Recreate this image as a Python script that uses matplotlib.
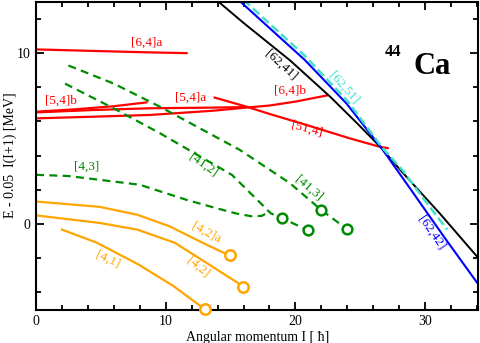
import matplotlib
matplotlib.use('Agg')
import matplotlib.pyplot as plt
from matplotlib.ticker import MultipleLocator

plt.rcParams['font.family'] = ['Liberation Serif', 'DejaVu Serif']

# ---- data ----
# red bands
i_64a = [0, 4, 8, 11.7]
e_64a = [10.2, 10.12, 10.04, 9.98]
i_54b = [0, 3, 6, 8.6]
e_54b = [6.56, 6.7, 6.88, 7.11]
i_54a = [0, 4.5, 8.8, 13.7, 16.2]
e_54a = [6.52, 6.66, 6.76, 6.8, 6.83]
i_64b = [0, 4.5, 8.8, 13.7, 16.2, 18.0, 20, 22.5]
e_64b = [6.17, 6.27, 6.37, 6.62, 6.8, 6.92, 7.15, 7.52]
i_514 = [13.7, 16.2, 18.0, 21, 24.2, 26.5, 27.2]
e_514 = [7.4, 6.86, 6.43, 5.75, 5.0, 4.51, 4.42]
# black / blue / cyan
i_6241 = [13.5, 16, 19.6, 22.7, 24.8, 26.65, 28.3, 31.1, 34.1]
e_6241 = [13.35, 11.75, 9.55, 7.42, 5.85, 4.42, 2.97, 0.64, -1.99]
i_6242 = [15.6, 18, 20.7, 23.95, 26.65, 29, 31.5, 34.1]
e_6242 = [13.1, 11.45, 9.6, 7.03, 4.42, 1.9, -0.8, -3.53]
i_6251 = [16.0, 18.3, 20.7, 24.0, 26.65, 28.3, 30.1, 31.7]
e_6251 = [13.1, 11.5, 9.85, 7.2, 4.5, 3.1, 1.25, -0.33]
# green bands
i_43 = [0, 2.5, 4.9, 8.0, 11.6, 14, 15.5, 16.6, 17.4, 17.95]
e_43 = [2.87, 2.8, 2.58, 2.29, 1.41, 0.9, 0.6, 0.45, 0.47, 0.7]
i_412 = [2.24, 6, 9.56, 15.1, 17.0, 18.1, 18.94, 20.95]
e_412 = [8.2, 6.75, 5.3, 2.87, 1.45, 0.62, 0.35, -0.37]
i_413 = [2.5, 6, 9.56, 15.73, 19.58, 21.97, 23.95]
e_413 = [9.26, 8.2, 6.85, 4.32, 2.38, 0.83, -0.29]
# orange bands
i_42a = [0, 4.9, 7.8, 10.3, 12.6, 14.2, 14.96]
e_42a = [1.31, 1.0, 0.54, -0.14, -1.01, -1.59, -1.84]
i_42 = [0, 4.9, 7.8, 10.7, 13.2, 15.73, 15.98]
e_42 = [0.5, 0.06, -0.33, -1.1, -2.3, -3.53, -3.66]
i_41 = [2, 4.7, 7.9, 10.6, 13.0]
e_41 = [-0.33, -1.1, -2.37, -3.63, -4.98]

RED = '#ff0000'
GREEN = '#008c00'
ORANGE = '#ffa500'
BLUE = '#0000ff'
CYAN = '#40e0d0'

fig = plt.figure(figsize=(4.8, 3.43), dpi=100)
ax = fig.add_axes([36 / 480, 1 - 309.5 / 343, (478.3 - 36) / 480, (309.5 - 1.5) / 343])

lw = 1.6
for xs, ys in [(i_64a, e_64a), (i_54b, e_54b), (i_54a, e_54a), (i_64b, e_64b), (i_514, e_514)]:
    ax.plot(xs, ys, color=RED, lw=lw, solid_capstyle='butt')

ax.plot(i_6241, e_6241, color='black', lw=1.4)
ax.plot(i_6242, e_6242, color=BLUE, lw=1.5)
ax.plot(i_6251, e_6251, color=CYAN, lw=1.8, dashes=(3.5, 1.6))

dash = (3.6, 2.4)
ax.plot(i_43, e_43, color=GREEN, lw=lw, dashes=dash)
for xs, ys in [(i_412, e_412), (i_413, e_413)]:
    ax.plot(xs, ys, color=GREEN, lw=lw, dashes=dash)
    ax.plot(xs[-2:], ys[-2:], ls='none', marker='o', ms=7, mfc='white', mec=GREEN, mew=1.8,
            clip_on=False, zorder=5)

for xs, ys in [(i_42a, e_42a), (i_42, e_42), (i_41, e_41)]:
    ax.plot(xs, ys, color=ORANGE, lw=lw)
    ax.plot(xs[-1:], ys[-1:], ls='none', marker='o', ms=7.5, mfc='white', mec=ORANGE, mew=1.8,
            clip_on=False, zorder=5)

fs = 9.5
def lab(x, y, s, c, rot=0):
    ax.text(x, y, s, color=c, fontsize=fs, ha='center', va='center', rotation=rot,
            rotation_mode='anchor')

lab(8.5, 10.6, '[6,4]a', RED)
lab(1.93, 7.22, '[5,4]b', RED)
lab(11.9, 7.36, '[5,4]a', RED)
lab(19.6, 7.8, '[6,4]b', RED)
lab(20.9, 5.53, '[51,4]', RED, -15)
lab(18.9, 9.26, '[62,41]', 'black', -42)
lab(23.7, 7.98, '[62,51]', CYAN, -48)
lab(30.5, -0.5, '[62,42]', BLUE, -55)
lab(12.9, 3.45, '[41,2]', GREEN, -35)
lab(21.0, 2.1, '[41,3]', GREEN, -40)
lab(3.9, 3.33, '[4,3]', GREEN)
lab(13.1, -0.5, '[4,2]a', ORANGE, -28)
lab(12.5, -2.55, '[4,2]', ORANGE, -40)
lab(5.55, -2.08, '[4,1]', ORANGE, -25)

ax.text(26.9, 9.84, '44', fontsize=12, fontweight='bold', ha='left', va='baseline')
ax.text(29.09, 8.74, 'Ca', fontsize=22, fontweight='bold', ha='left', va='baseline')

ax.set_xlim(0, 34.1)
ax.set_ylim(-5, 13)
ax.xaxis.set_major_locator(MultipleLocator(10))
ax.xaxis.set_minor_locator(MultipleLocator(2))
ax.yaxis.set_major_locator(MultipleLocator(10))
ax.yaxis.set_minor_locator(MultipleLocator(2))
ax.tick_params(which='both', direction='in', top=True, right=True, width=1.3, labelsize=10)
ax.tick_params(which='major', length=6, pad=4)
ax.tick_params(which='minor', length=3.5)
for sp in ax.spines.values():
    sp.set_linewidth(1.5)

ax.set_xlabel('Angular momentum I [ ħ]', fontsize=10, labelpad=2)
ax.set_ylabel('E - 0.05  I(I+1) [MeV]', fontsize=10)
ax.yaxis.set_label_coords(-0.042, 0.5)

fig.savefig('out.png', dpi=100)
